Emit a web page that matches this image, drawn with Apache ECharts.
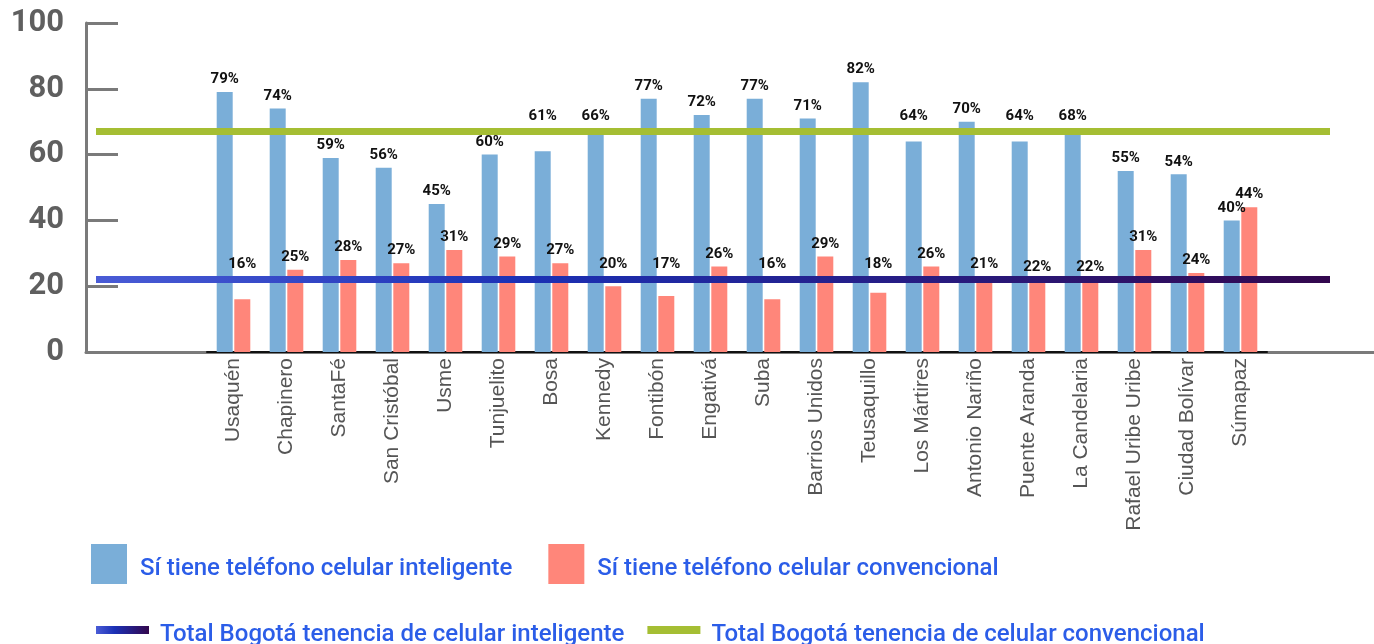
<!DOCTYPE html>
<html>
<head>
<meta charset="utf-8">
<script src="https://cdn.jsdelivr.net/npm/echarts@6/dist/echarts.min.js"></script>
<style>
  html, body { margin: 0; padding: 0; background: #fff; }
  #chart { width: 1374px; height: 644px; }
</style>
</head>
<body>
<div id="chart"></div>
<script>
var localidades = ['Usaquén', 'Chapinero', 'SantaFé', 'San Cristóbal', 'Usme', 'Tunjuelito', 'Bosa',
  'Kennedy', 'Fontibón', 'Engativá', 'Suba', 'Barrios Unidos', 'Teusaquillo', 'Los Mártires',
  'Antonio Nariño', 'Puente Aranda', 'La Candelaria', 'Rafael Uribe Uribe', 'Ciudad Bolívar', 'Súmapaz'];
var inteligente = [79, 74, 59, 56, 45, 60, 61, 66, 77, 72, 77, 71, 82, 64, 70, 64, 68, 55, 54, 40];
var convencional = [16, 25, 28, 27, 31, 29, 27, 20, 17, 26, 16, 29, 18, 26, 21, 22, 22, 31, 24, 44];
var totalInteligente = 22;
var totalConvencional = 67;

var nameInt = 'Sí tiene teléfono celular inteligente';
var nameConv = 'Sí tiene teléfono celular convencional';
var nameTotInt = 'Total Bogotá tenencia de celular inteligente';
var nameTotConv = 'Total Bogotá tenencia de celular convencional';

var blueGrad = new echarts.graphic.LinearGradient(0, 0, 1, 0, [
  { offset: 0, color: '#4a5cd6' },
  { offset: 0.35, color: '#1b30b5' },
  { offset: 1, color: '#33074d' }
]);
var green = '#a5be33';

var chart = echarts.init(document.getElementById('chart'));

var barLabel = {
  show: true,
  position: 'top',
  distance: 5,
  formatter: '{c}%',
  fontFamily: 'Roboto',
  fontSize: 15,
  fontWeight: 'bold',
  color: '#111'
};

function legendText(leftPad) {
  var t = { fontFamily: 'Roboto', fontSize: 24, fontWeight: 500, color: '#2b5de8' };
  return {
    rich: { t: Object.assign({ padding: [10, 0, 0, leftPad] }, t) }
  };
}

var option = {
  animation: false,
  grid: [
    { left: 86, right: 0, top: 23, bottom: 292 },
    { left: 207, right: 107, top: 23, bottom: 292 },
    { left: 96, right: 44, top: 23, bottom: 292 }
  ],
  xAxis: [
    {
      gridIndex: 0, type: 'value', min: 0, max: 1,
      axisLine: { show: true, lineStyle: { color: '#7a7a7a', width: 3 } },
      axisTick: { show: false }, axisLabel: { show: false }, splitLine: { show: false }
    },
    {
      gridIndex: 1, type: 'category', data: localidades,
      axisLine: { show: true, lineStyle: { color: '#111', width: 2 } },
      axisTick: { show: false },
      axisLabel: {
        rotate: 90, margin: 6, interval: 0,
        fontFamily: 'Liberation Sans', fontSize: 21, color: '#555'
      }
    },
    { gridIndex: 2, type: 'value', min: 0, max: 1, show: false }
  ],
  yAxis: [
    {
      gridIndex: 0, type: 'value', min: 0, max: 100, interval: 20,
      axisLine: { show: true, lineStyle: { color: '#7a7a7a', width: 3 } },
      axisTick: { show: true, inside: true, length: 32, lineStyle: { color: '#7a7a7a', width: 3 } },
      axisLabel: { margin: 22, fontFamily: 'Roboto', fontSize: 31, fontWeight: 'bold', color: '#5f5f5f' },
      splitLine: { show: false }
    },
    { gridIndex: 1, type: 'value', min: 0, max: 100, show: false },
    { gridIndex: 2, type: 'value', min: 0, max: 100, show: false }
  ],
  legend: [
    {
      data: [nameInt, nameConv],
      left: 86, top: 539,
      icon: 'rect', itemWidth: 36, itemHeight: 40, itemGap: 36,
      formatter: '{t|{name}}',
      textStyle: legendText(8)
    },
    {
      data: [
        { name: nameTotInt, itemStyle: { color: blueGrad } },
        { name: nameTotConv, itemStyle: { color: green } }
      ],
      left: 91, top: 618,
      icon: 'rect', itemWidth: 53, itemHeight: 8, itemGap: 23,
      formatter: '{t|{name}}',
      textStyle: legendText(6)
    }
  ],
  series: [
    {
      name: nameInt, type: 'bar', xAxisIndex: 1, yAxisIndex: 1,
      data: inteligente, barWidth: 16, barGap: '10%',
      itemStyle: { color: '#7aaed8' }, label: barLabel
    },
    {
      name: nameConv, type: 'bar', xAxisIndex: 1, yAxisIndex: 1,
      data: convencional, barWidth: 16,
      itemStyle: { color: '#ff867a' }, label: barLabel
    },
    {
      name: nameTotInt, type: 'line', xAxisIndex: 2, yAxisIndex: 2, z: 5,
      data: [], color: blueGrad,
      markLine: {
        silent: true, symbol: ['none', 'none'], label: { show: false },
        lineStyle: { color: blueGrad, width: 7, type: 'solid' },
        data: [{ yAxis: totalInteligente }]
      }
    },
    {
      name: nameTotConv, type: 'line', xAxisIndex: 2, yAxisIndex: 2, z: 5,
      data: [], color: green,
      markLine: {
        silent: true, symbol: ['none', 'none'], label: { show: false },
        lineStyle: { color: green, width: 7, type: 'solid' },
        data: [{ yAxis: totalConvencional }]
      }
    }
  ]
};

chart.setOption(option);

// move value labels off the two total lines, as in the original figure
function px(v) {
  return chart.convertToPixel({ yAxisIndex: 1 }, v);
}
var linesPx = [px(totalInteligente), px(totalConvencional)];
function withLabels(values) {
  return values.map(function (v) {
    var top = px(v);
    var c = top - 12.5;
    linesPx.forEach(function (L) {
      if (Math.abs(c - L) < 11) {
        var below = L + 11;
        c = (below + 7.5 <= top - 4 && c > L) ? below : L - 15;
      }
    });
    return { value: v, label: { distance: top - c - 7.5 } };
  });
}
chart.setOption({
  series: [
    { name: nameInt, data: withLabels(inteligente) },
    { name: nameConv, data: withLabels(convencional) }
  ]
});
</script>
</body>
</html>
